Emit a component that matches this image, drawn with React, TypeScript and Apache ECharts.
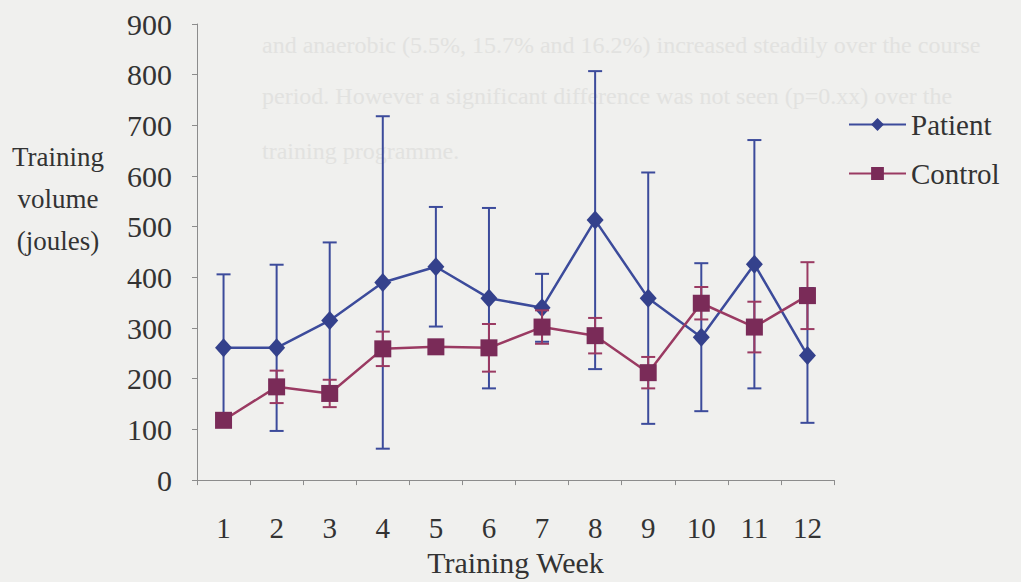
import React, { useEffect, useRef } from "react";
import * as echarts from "echarts";

const weeks = ["1", "2", "3", "4", "5", "6", "7", "8", "9", "10", "11", "12"];
const patientMean = [261, 261, 315, 390, 421, 359, 340, 513, 359, 282, 426, 246];
const patientErr = [145, 164, 154, 328, 118, 178, 67, 294, 248, 146, 245, 133];
const controlMean = [118, 184, 171, 259, 263, 261, 302, 285, 212, 349, 302, 364];
const controlErr = [10, 32, 27, 34, 12, 47, 33, 35, 31, 32, 50, 66];
const yTicks = { min: 0, max: 900, interval: 100 };
const backgroundLines = [
  "and anaerobic (5.5%, 15.7% and 16.2%) increased steadily over the course",
  "period. However a significant difference was not seen (p=0.xx) over the",
  "training programme.",
];

const FONT = "Liberation Serif";
const PATIENT = "#34418c";
const PATIENT_LINE = "#3c4b9b";
const CONTROL = "#7a2b58";
const CONTROL_LINE = "#9a3a62";
const TEXT = "#333333";

function errorSeries(name: string, means: number[], errs: number[], color: string, z: number) {
  const data = means.map((m, i) => [i, m - errs[i], m + errs[i]]);
  return {
    type: "custom",
    name: name + " error",
    z,
    silent: true,
    data,
    encode: { x: 0, y: [1, 2] },
    renderItem: (params: any, api: any) => {
      const idx = api.value(0);
      const lo = api.coord([idx, api.value(1)]);
      const hi = api.coord([idx, api.value(2)]);
      const hw = 7;
      const style = { stroke: color, lineWidth: 2 };
      return {
        type: "group",
        children: [
          { type: "line", shape: { x1: lo[0], y1: lo[1], x2: hi[0], y2: hi[1] }, style },
          { type: "line", shape: { x1: lo[0] - hw, y1: lo[1], x2: lo[0] + hw, y2: lo[1] }, style },
          { type: "line", shape: { x1: hi[0] - hw, y1: hi[1], x2: hi[0] + hw, y2: hi[1] }, style },
        ],
      };
    },
  };
}

export default function App() {
  const ref = useRef<HTMLDivElement>(null);
  useEffect(() => {
    document.body.style.margin = "0";
    document.body.style.background = "#f0f0ee";
    const chart = echarts.init(ref.current!, null, { renderer: "svg" });
    chart.setOption({
      animation: false,
      backgroundColor: "#f0f0ee",
      textStyle: { fontFamily: FONT },
      grid: { left: 197, right: 187, top: 24, bottom: 100 },
      legend: {
        orient: "vertical",
        left: 848,
        top: 110,
        padding: 0,
        itemWidth: 57,
        itemHeight: 16,
        itemGap: 20,
        textStyle: { fontFamily: FONT, fontSize: 29, color: TEXT, padding: [0, 0, 0, 0] },
        data: ["Patient", "Control"],
      },
      graphic: [
        ...backgroundLines.map((t, i) => ({
          type: "text",
          z: -10,
          left: 262,
          top: [33, 84, 139][i],
          silent: true,
          style: { text: t, font: `24px ${FONT}`, fill: "#e2e2e0" },
        })),
        {
          type: "text",
          x: 58,
          y: 136,
          style: {
            text: "Training\nvolume\n(joules)",
            font: `27px ${FONT}`,
            fill: TEXT,
            align: "center",
            verticalAlign: "top",
            lineHeight: 42,
          },
        },
      ],
      xAxis: {
        type: "category",
        data: weeks,
        boundaryGap: true,
        name: "Training Week",
        nameLocation: "middle",
        nameGap: 66,
        nameTextStyle: { fontFamily: FONT, fontSize: 30, color: TEXT },
        axisLine: { lineStyle: { color: "#8c8c8c", width: 1 } },
        axisTick: { show: true, alignWithLabel: false, length: 5, lineStyle: { color: "#8c8c8c" } },
        axisLabel: { fontFamily: FONT, fontSize: 29, color: TEXT, margin: 33 },
        splitLine: { show: false },
      },
      yAxis: {
        type: "value",
        min: yTicks.min,
        max: yTicks.max,
        interval: yTicks.interval,
        axisLine: { show: true, lineStyle: { color: "#8c8c8c", width: 1 } },
        axisTick: { show: true, length: 5, lineStyle: { color: "#8c8c8c" } },
        axisLabel: { fontFamily: FONT, fontSize: 30, color: TEXT, margin: 25 },
        splitLine: { show: false },
      },
      series: [
        errorSeries("Patient", patientMean, patientErr, PATIENT_LINE, 2),
        errorSeries("Control", controlMean, controlErr, CONTROL_LINE, 4),
        {
          type: "line",
          name: "Patient",
          data: patientMean,
          z: 3,
          symbol: "diamond",
          symbolSize: [17, 19],
          itemStyle: { color: PATIENT },
          lineStyle: { color: PATIENT_LINE, width: 2.5 },
        },
        {
          type: "line",
          name: "Control",
          data: controlMean,
          z: 5,
          symbol: "rect",
          symbolSize: 17,
          itemStyle: { color: CONTROL },
          lineStyle: { color: CONTROL_LINE, width: 2.5 },
        },
      ],
    });
    return () => chart.dispose();
  }, []);
  return <div ref={ref} style={{ width: 1021, height: 582 }} />;
}
